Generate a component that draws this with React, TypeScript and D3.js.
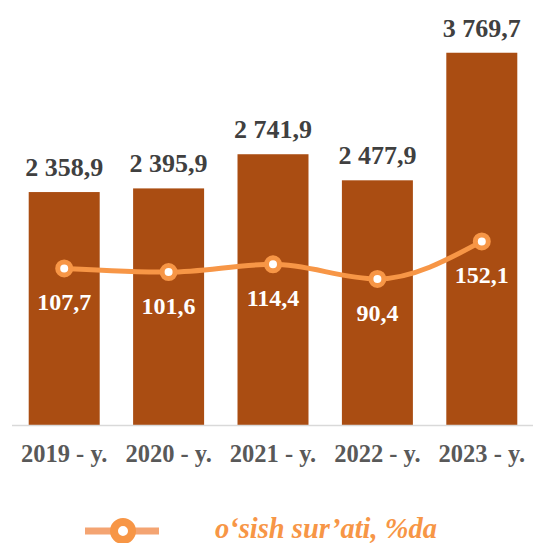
import * as d3 from 'd3';

const W = 533;
const H = 543;

const years = ['2019 - y.', '2020 - y.', '2021 - y.', '2022 - y.', '2023 - y.'];
const volumes = [2358.9, 2395.9, 2741.9, 2477.9, 3769.7];
const growth = [107.7, 101.6, 114.4, 90.4, 152.1];
const legendLabel = 'o‘sish sur’ati, %da';

const font = '"Liberation Serif", "Times New Roman", serif';
const barColor = '#AA4D12';
const lineColor = '#F79646';

const fmt = (v: number) => {
    const [int, dec] = v.toFixed(1).split('.');
    const grouped = int.replace(/\B(?=(\d{3})+(?!\d))/g, ' ');
    return `${grouped},${dec}`;
};

export default function App() {
    const x = d3.scaleBand<string>().domain(years).range([12, 534]).paddingInner(0.32).paddingOuter(0.16);
    const y = d3.scaleLinear().domain([0, 4000]).range([425, 30]);
    const y2 = d3.scaleLinear().domain([-150, 500]).range([425, 30]);

    const pts: [number, number][] = growth.map((g, i) => [x(years[i])! + x.bandwidth() / 2, y2(g)]);
    const line = d3.line().curve(d3.curveMonotoneX)(pts) ?? '';

    return (
        <svg width={W} height={H} style={{ position: 'absolute', left: 0, top: 0 }} fontFamily={font}>
            {/* bars */}
            {volumes.map((v, i) => (
                <rect
                    key={years[i]}
                    x={x(years[i])}
                    y={y(v)}
                    width={x.bandwidth()}
                    height={y(0) - y(v)}
                    fill={barColor}
                />
            ))}
            {/* value labels */}
            {volumes.map((v, i) => (
                <text
                    key={'v' + i}
                    x={x(years[i])! + x.bandwidth() / 2}
                    y={y(v) - 16}
                    textAnchor="middle"
                    fontSize={26}
                    fontWeight="bold"
                    fill="#404040"
                >
                    {fmt(v)}
                </text>
            ))}
            <line x1={12} x2={533} y1={y(0) + 0.5} y2={y(0) + 0.5} stroke="#D9D9D9" strokeWidth={1.5} />
            {/* x labels */}
            {years.map((yr) => (
                <text
                    key={yr}
                    x={x(yr)! + x.bandwidth() / 2}
                    y={462}
                    textAnchor="middle"
                    fontSize={24.5}
                    fontWeight="bold"
                    fill="#595959"
                >
                    {yr}
                </text>
            ))}
            {/* growth line */}
            <path d={line} fill="none" stroke={lineColor} strokeWidth={5} strokeLinecap="round" />
            {pts.map(([px, py], i) => (
                <g key={'p' + i}>
                    <circle cx={px} cy={py} r={6.5} fill="#fff" stroke={lineColor} strokeWidth={5} />
                    <text x={px} y={py + 42} textAnchor="middle" fontSize={24} fontWeight="bold" fill="#fff">
                        {fmt(growth[i])}
                    </text>
                </g>
            ))}
            {/* legend */}
            <line x1={85} x2={159} y1={531} y2={531} stroke="#F4A472" strokeWidth={7} />
            <circle cx={123} cy={531} r={9} fill="#fff" stroke={lineColor} strokeWidth={8} />
            <text x={215} y={538} fontSize={28.5} fontWeight="bold" fontStyle="italic" fill={lineColor}>
                {legendLabel}
            </text>
        </svg>
    );
}
